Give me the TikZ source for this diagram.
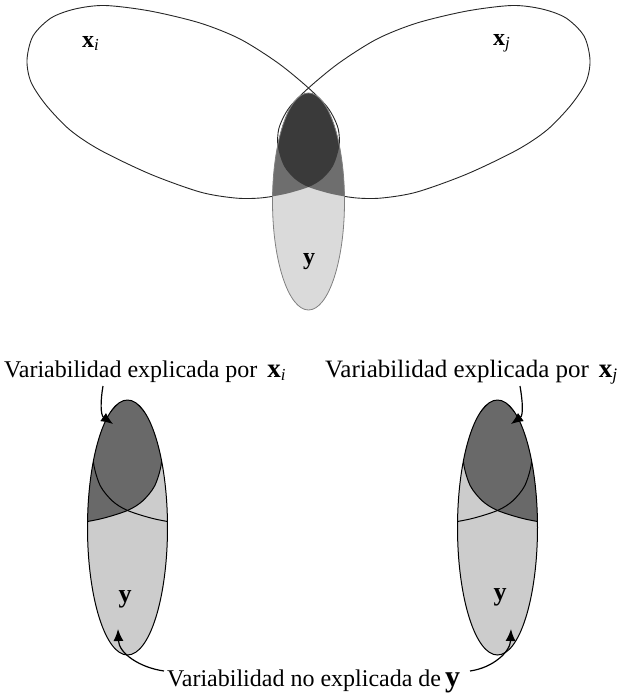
\documentclass[tikz,border=0pt]{standalone}
\usepackage{fontspec}
\setmainfont{Liberation Serif}
\usetikzlibrary{arrows.meta}
\definecolor{darkT}{RGB}{58,58,58}
\definecolor{medT}{RGB}{110,110,110}
\definecolor{lightT}{RGB}{218,218,218}
\definecolor{darkB}{RGB}{105,105,105}
\definecolor{lightB}{RGB}{204,204,204}
\definecolor{yedge}{RGB}{128,128,128}
\begin{document}
\begin{tikzpicture}[x=1pt,y=-1pt,
  xline/.style={draw=black!85,line width=0.9pt},
  yline/.style={draw=yedge,line width=0.8pt},
  bline/.style={draw=black,line width=1pt},
  lbl/.style={inner sep=0pt,font=\fontsize{24}{28}\selectfont},
  txt/.style={inner sep=0pt,font=\fontsize{24}{28}\selectfont},
  arr/.style={draw=black,line width=1.2pt,-{Latex[length=12pt,width=10pt]}}]
\useasboundingbox (0,0) rectangle (619,696);
\def\xipath{plot[smooth cycle] coordinates {(-281.5,-141.5) (-275.5,-165.5) (-257.5,-183.5) (-233.5,-192.5) (-203.5,-196) (-158.5,-190.5) (-108.5,-178.5) (-68.5,-162.5) (-30.5,-138.5) (0,-113.5) (19.5,-93.5) (29.5,-73.5) (30.5,-54.5) (24.5,-35.5) (13.5,-22.5) (0,-14.5) (-23.5,-7.5) (-48.5,-3.5) (-73.5,-3.5) (-108.5,-9.5) (-158.5,-27.5) (-208.5,-51.5) (-238.5,-71.5) (-262.5,-96.5) (-277.5,-119.5)}}
\def\xjpath{plot[smooth cycle] coordinates {(281.5,-141.5) (275.5,-165.5) (257.5,-183.5) (233.5,-192.5) (203.5,-196) (158.5,-190.5) (108.5,-178.5) (68.5,-162.5) (30.5,-138.5) (0,-113.5) (-19.5,-93.5) (-29.5,-73.5) (-30.5,-54.5) (-24.5,-35.5) (-13.5,-22.5) (0,-14.5) (23.5,-7.5) (48.5,-3.5) (73.5,-3.5) (108.5,-9.5) (158.5,-27.5) (208.5,-51.5) (238.5,-71.5) (262.5,-96.5) (277.5,-119.5)}}
\def\ypath{(0,0) ellipse [x radius=36, y radius=108.5]}
% ---------- top figure ----------
\begin{scope}[shift={(308.5,201.5)}]
  \draw[xline] \xipath;
  \draw[xline] \xjpath;
  \fill[lightT] \ypath;
  \begin{scope}
    \clip \ypath;
    \fill[medT] \xipath;
    \fill[medT] \xjpath;
    \clip \xipath;
    \fill[darkT] \xjpath;
  \end{scope}
  \draw[yline] \ypath;
\end{scope}
\node[lbl,anchor=base west] (lxi) at (82,47) {\textbf{x}\textsubscript{\textit{i}}};
\node[lbl,anchor=base west] (lxj) at (493,45) {\textbf{x}\textsubscript{\textit{j}}};
\node[lbl,anchor=base] (ly) at (309,264) {\textbf{y}};
% ---------- bottom left ----------
\begin{scope}[shift={(127.5,527.5)},xscale=1.111,yscale=1.175]
  \fill[lightB] \ypath;
  \begin{scope}
    \clip \ypath;
    \fill[darkB] \xipath;
    \draw[bline] \xipath;
    \draw[bline] \xjpath;
  \end{scope}
  \draw[bline] \ypath;
\end{scope}
% ---------- bottom right ----------
\begin{scope}[shift={(497.5,527.5)},xscale=1.111,yscale=1.175]
  \fill[lightB] \ypath;
  \begin{scope}
    \clip \ypath;
    \fill[darkB] \xjpath;
    \draw[bline] \xipath;
    \draw[bline] \xjpath;
  \end{scope}
  \draw[bline] \ypath;
\end{scope}
\node[lbl,anchor=base,font=\fontsize{26}{30}\selectfont] (ly1) at (125,602) {\textbf{y}};
\node[lbl,anchor=base,font=\fontsize{26}{30}\selectfont] (ly2) at (500,600) {\textbf{y}};
% ---------- texts ----------
\node[txt,anchor=base west] (t1) at (4,377) {Variabilidad explicada por\hspace{10pt}{\fontsize{27}{30}\selectfont\textbf{x}}\textsubscript{\textit{i}}};
\node[txt,anchor=base east,font=\fontsize{25}{29}\selectfont] (t2) at (618,377) {Variabilidad explicada por\hspace{10pt}{\fontsize{27}{30}\selectfont\textbf{x}}\textsubscript{\textit{j}}};
\node[txt,anchor=base west] (t3) at (167,686) {Variabilidad no explicada de\hspace{4pt}{\fontsize{30}{32}\selectfont\textbf{y}}};
% ---------- arrows ----------
\coordinate (a1s) at (103,386);
\coordinate (a1e) at (113,424);
\coordinate (a2s) at (520,386);
\coordinate (a2e) at (511,424);
\coordinate (a3s) at (164,671);
\coordinate (a3e) at (118,629);
\coordinate (a4s) at (470,671);
\coordinate (a4e) at (511,629);
\draw[arr] (a1s) to[out=-100,in=145] (a1e);
\draw[arr] (a2s) to[out=-80,in=35] (a2e);
\draw[arr] (a3s) to[out=172,in=-88] (a3e);
\draw[arr] (a4s) to[out=8,in=-92] (a4e);
\end{tikzpicture}
\end{document}
